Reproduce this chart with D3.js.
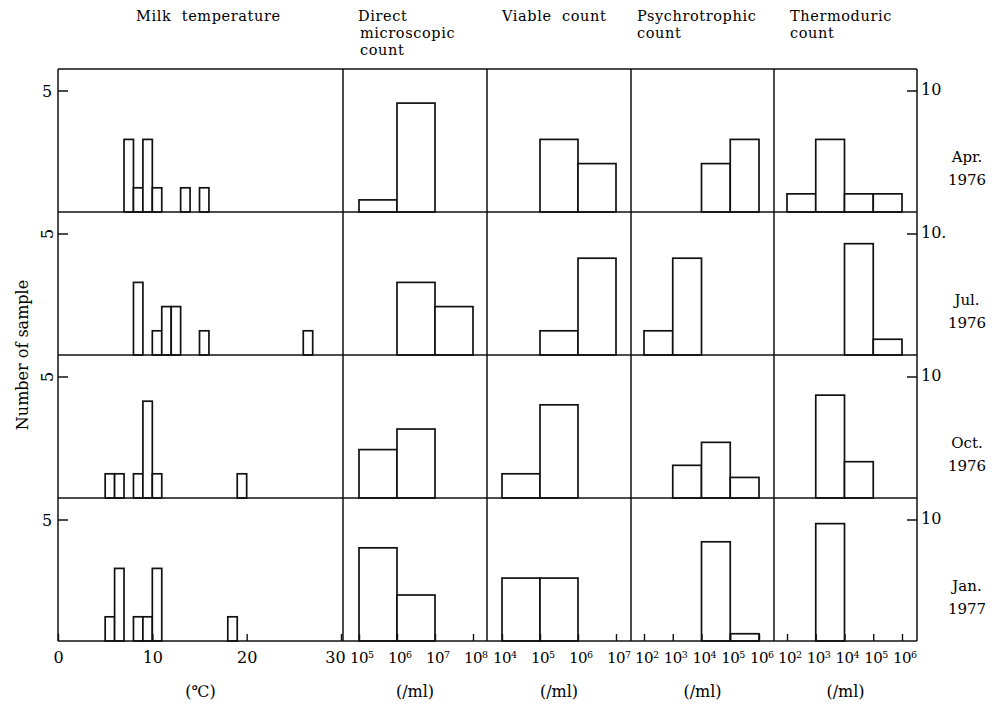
<!DOCTYPE html>
<html>
<head>
<meta charset="utf-8">
<script src="https://cdn.jsdelivr.net/npm/d3@7"></script>
<style>
  body { margin: 0; background: #fff; }
  svg { display: block; font-family: 'DejaVu Serif', 'Liberation Serif', serif; }
</style>
</head>
<body>
<div id="chart"></div>
<script>
// row labels (sampling month)
const months = ['Apr.', 'Jul.', 'Oct.', 'Jan.'];
const years = ['1976', '1976', '1976', '1977'];

// column headers and units
const titles = [
  ['Milk  temperature'],
  ['Direct', 'microscopic', 'count'],
  ['Viable  count'],
  ['Psychrotrophic', 'count'],
  ['Thermoduric', 'count']
];
const units = ['(\u2103)', '(/ml)', '(/ml)', '(/ml)', '(/ml)'];

// tick values (temperature in degC, counts as powers of ten)
const tempTicks = [0, 10, 20, 30];
const dmcTicks = [5, 6, 7, 8];
const viableTicks = [4, 5, 6, 7];
const psychroTicks = [2, 3, 4, 5, 6];
const thermoTicks = [2, 3, 4, 5, 6];

// milk temperature: [bin start degC (1 degC wide), number of samples]
const temperature = [
  [[7, 3], [8, 1], [9, 3], [10, 1], [13, 1], [15, 1]],
  [[8, 3], [10, 1], [11, 2], [12, 2], [15, 1], [26, 1]],
  [[5, 1], [6, 1], [8, 1], [9, 4], [10, 1], [19, 1]],
  [[5, 1], [6, 3], [8, 1], [9, 1], [10, 3], [18, 1]]
];

// counts: [log10 bin start (1 decade wide), number of samples]
const dmc = [
  [[5, 1], [6, 9]],
  [[6, 6], [7, 4]],
  [[5, 4], [6, 5.7]],
  [[5, 7.7], [6, 3.8]]
];
const viable = [
  [[5, 6], [6, 4]],
  [[5, 2], [6, 8]],
  [[4, 2], [5, 7.7]],
  [[4, 5.2], [5, 5.2]]
];
const psychro = [
  [[4, 4], [5, 6]],
  [[2, 2], [3, 8]],
  [[3, 2.7], [4, 4.6], [5, 1.7]],
  [[4, 8.2], [5, 0.6]]
];
const thermo = [
  [[2, 1.5], [3, 6], [4, 1.5], [5, 1.5]],
  [[4, 9.2], [5, 1.3]],
  [[3, 8.5], [4, 3]],
  [[3, 9.7]]
];

const width = 998;
const height = 706;
const colEdges = [58, 343, 487, 631, 774, 917];
const rowScale = d3.scaleLinear().domain([0, 4]).range([69, 641]);
const unitHeight = 121; // height of 5 (left) / 10 (right)

const svg = d3.select('#chart')
  .append('svg')
  .attr('width', width)
  .attr('height', height);

// x scales, one per column
const xTemp = d3.scaleLinear().domain([0, 30]).range([58, 341]);
const xDmc = d3.scaleLog().domain([1e5, 1e8]).range([359, 473]);
const xViable = d3.scaleLog().domain([1e4, 1e7]).range([502, 616]);
const xPsy = d3.scaleLog().domain([1e2, 1e6]).range([644, 759]);
const xThermo = d3.scaleLog().domain([1e2, 1e6]).range([787, 902]);

const countPanels = [
  { x: xDmc, data: dmc, ticks: dmcTicks },
  { x: xViable, data: viable, ticks: viableTicks },
  { x: xPsy, data: psychro, ticks: psychroTicks },
  { x: xThermo, data: thermo, ticks: thermoTicks }
];

const bars = svg.append('g')
  .attr('fill', '#fff')
  .attr('stroke', '#111')
  .attr('stroke-width', 1.7);

months.forEach((m, i) => {
  const base = rowScale(i + 1);
  const yTemp = d3.scaleLinear().domain([0, 5]).range([base, base - unitHeight]);
  const yCount = d3.scaleLinear().domain([0, 10]).range([base, base - unitHeight]);

  // temperature histogram
  bars.append('g')
    .selectAll('rect')
    .data(temperature[i])
    .join('rect')
    .attr('x', (d) => xTemp(d[0]))
    .attr('width', (d) => xTemp(d[0] + 1) - xTemp(d[0]))
    .attr('y', (d) => yTemp(d[1]))
    .attr('height', (d) => base - yTemp(d[1]));

  // count histograms
  countPanels.forEach((p) => {
    bars.append('g')
      .selectAll('rect')
      .data(p.data[i])
      .join('rect')
      .attr('x', (d) => p.x(10 ** d[0]))
      .attr('width', (d) => p.x(10 ** (d[0] + 1)) - p.x(10 ** d[0]))
      .attr('y', (d) => yCount(d[1]))
      .attr('height', (d) => base - yCount(d[1]));
  });

  // left "5" tick
  svg.append('line')
    .attr('x1', colEdges[0]).attr('x2', colEdges[0] + 10)
    .attr('y1', yTemp(5)).attr('y2', yTemp(5))
    .attr('stroke', '#111').attr('stroke-width', 1.5);
  const five = svg.append('text')
    .attr('font-size', 16)
    .attr('text-anchor', 'middle')
    .attr('dy', '0.35em')
    .text('5');
  if (i === 1 || i === 2) {
    five.attr('transform', `translate(47,${yTemp(5)}) rotate(-90)`);
  } else {
    five.attr('x', 47).attr('y', yTemp(5));
  }

  // right "10" tick
  svg.append('line')
    .attr('x1', colEdges[5] - 10).attr('x2', colEdges[5])
    .attr('y1', yCount(10)).attr('y2', yCount(10))
    .attr('stroke', '#111').attr('stroke-width', 1.5);
  svg.append('text')
    .attr('x', 921).attr('y', yCount(10) - 2)
    .attr('dy', '0.35em')
    .attr('font-size', 16)
    .text(i === 1 ? '10.' : '10');

  // month labels
  svg.append('text')
    .attr('x', 967).attr('y', rowScale(i) + 93)
    .attr('text-anchor', 'middle')
    .attr('font-size', 15)
    .text(m);
  svg.append('text')
    .attr('x', 967).attr('y', rowScale(i) + 116)
    .attr('text-anchor', 'middle')
    .attr('font-size', 15)
    .text(years[i]);
});

// frame
const frame = svg.append('g').attr('stroke', '#111').attr('stroke-width', 1.5);
d3.range(5).forEach((r) => {
  frame.append('line')
    .attr('x1', colEdges[0]).attr('x2', colEdges[5])
    .attr('y1', rowScale(r)).attr('y2', rowScale(r));
});
colEdges.forEach((x) => {
  frame.append('line')
    .attr('x1', x).attr('x2', x)
    .attr('y1', rowScale(0)).attr('y2', rowScale(4));
});

// bottom axes
const axisY = rowScale(4);
const tempAxis = svg.append('g')
  .attr('transform', `translate(0,${axisY})`)
  .call(d3.axisBottom(xTemp).tickValues(tempTicks).tickSizeInner(-7).tickSizeOuter(0).tickPadding(11));
tempAxis.select('.domain').remove();
tempAxis.attr('font-family', null).attr('font-size', 16);
tempAxis.selectAll('line').attr('stroke', '#111').attr('stroke-width', 1.4);
tempAxis.selectAll('.tick text').filter((d) => d === 30).attr('dx', -6);

countPanels.forEach((p) => {
  const g = svg.append('g')
    .attr('transform', `translate(0,${axisY})`)
    .call(d3.axisBottom(p.x)
      .tickValues(p.ticks.map((e) => 10 ** e))
      .tickSizeInner(-7).tickSizeOuter(0).tickPadding(11));
  g.select('.domain').remove();
  g.attr('font-family', null).attr('font-size', 15);
  g.selectAll('line').attr('stroke', '#111').attr('stroke-width', 1.4);
  g.selectAll('.tick text').each(function (d) {
    const t = d3.select(this);
    t.text('10').attr('dx', '0.15em').attr('letter-spacing', '-0.5px');
    t.append('tspan')
      .attr('dy', '-0.5em')
      .attr('font-size', 9.5)
      .text(Math.round(Math.log10(d)));
  });
});

// units under each column
units.forEach((u, c) => {
  svg.append('text')
    .attr('x', (colEdges[c] + colEdges[c + 1]) / 2)
    .attr('y', 697)
    .attr('text-anchor', 'middle')
    .attr('font-size', 16)
    .text(u);
});

// column headers
const headerX = [136, 358, 502, 637, 790];
titles.forEach((lines, c) => {
  lines.forEach((line, k) => {
    svg.append('text')
      .attr('x', headerX[c] + (k > 0 && c === 1 ? 2 : 0))
      .attr('y', 21 + k * 17)
      .attr('font-size', 14.5)
      .attr('letter-spacing', '0.6px')
      .style('white-space', 'pre')
      .text(line);
  });
});

// y axis title
svg.append('text')
  .attr('transform', `translate(22,${rowScale(2)}) rotate(-90)`)
  .attr('text-anchor', 'middle')
  .attr('dy', '0.35em')
  .attr('font-size', 16)
  .text('Number of sample');
</script>
</body>
</html>
